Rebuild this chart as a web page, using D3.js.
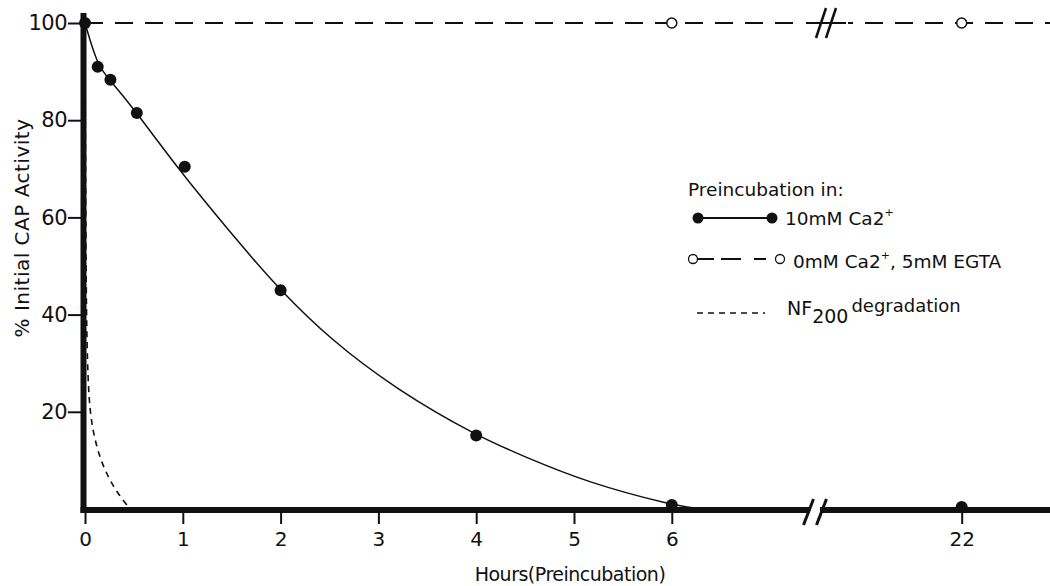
<!DOCTYPE html>
<html>
<head>
<meta charset="utf-8">
<script src="https://cdn.jsdelivr.net/npm/d3@7"></script>
<style>
  html, body { margin: 0; padding: 0; background: #fff; }
  svg { display: block; }
  text { font-family: "DejaVu Sans", sans-serif; fill: #111; }
</style>
</head>
<body>
<svg id="chart" width="1050" height="586"></svg>
<script>
// ---- data ----
const caHours   = [0, 0.13, 0.26, 0.53, 1.02, 2.0, 4.0, 6.0, 22];
const caValues  = [100, 91, 88.3, 81.5, 70.4, 45, 15.1, 0.8, 0.4];
const fitHours  = [0, 0.13, 0.26, 0.53, 0.72, 1.0, 1.69, 2.0, 2.5, 3.19, 4.0, 4.5, 5.13, 6.0, 6.3];
const fitValues = [100, 91, 88.2, 81.5, 76.3, 68.8, 52, 45, 35, 24.5, 15.1, 10.7, 5.5, 0.8, 0];
const egtaHours  = [6, 22];
const egtaValues = [100, 100];
const nfHours  = [0, 0.004, 0.01, 0.02, 0.04, 0.08, 0.15, 0.25, 0.35, 0.46];
const nfValues = [100, 75, 50, 33, 22, 16, 10.5, 6, 2.8, 0];
const xTicks = [0, 1, 2, 3, 4, 5, 6, 22];
const yTicks = [20, 40, 60, 80, 100];

// ---- scales ----
const svg = d3.select("#chart");
const x = d3.scaleLinear().domain([0, 7.45, 20.5, 22.9]).range([85, 813.6, 815, 1049.7]);
const y = d3.scaleLinear().domain([0, 100]).range([509, 23]);
const axisY = 510;

// ---- 100% EGTA dashed line ----
svg.append("line")
  .attr("x1", x(0)).attr("x2", 1050).attr("y1", y(100)).attr("y2", y(100))
  .attr("stroke", "#111").attr("stroke-width", 2).attr("stroke-dasharray", "18,12");

// top break mark
const topBreak = 826;
svg.append("rect").attr("x", topBreak - 22).attr("y", y(100) - 3).attr("width", 44).attr("height", 6).attr("fill", "#fff");
svg.append("line").attr("x1", topBreak - 20).attr("x2", topBreak + 20).attr("y1", y(100)).attr("y2", y(100)).attr("stroke", "#111").attr("stroke-width", 2);
[-5, 5].forEach(d => {
  svg.append("line")
    .attr("x1", topBreak + d - 5).attr("y1", y(100) + 15)
    .attr("x2", topBreak + d + 5).attr("y2", y(100) - 15)
    .attr("stroke", "#111").attr("stroke-width", 2.5);
});

// ---- NF200 degradation curve ----
svg.append("path")
  .datum(nfHours.map((h, i) => [h, nfValues[i]]))
  .attr("fill", "none").attr("stroke", "#111").attr("stroke-width", 1.6)
  .attr("stroke-dasharray", "6,5")
  .attr("d", d3.line().x(d => x(d[0])).y(d => y(d[1])).curve(d3.curveBasis));

// ---- fitted curve ----
svg.append("path")
  .datum(fitHours.map((h, i) => [h, fitValues[i]]))
  .attr("fill", "none").attr("stroke", "#111").attr("stroke-width", 1.5)
  .attr("d", d3.line().x(d => x(d[0])).y(d => y(d[1])).curve(d3.curveBasis));

// ---- axes ----
svg.append("line").attr("x1", 83.5).attr("x2", 83.5).attr("y1", 13).attr("y2", axisY + 3)
  .attr("stroke", "#111").attr("stroke-width", 6);
svg.append("line").attr("x1", 80.5).attr("x2", 1050).attr("y1", axisY).attr("y2", axisY)
  .attr("stroke", "#111").attr("stroke-width", 6);

// bottom break mark
const botBreak = 815;
svg.append("rect").attr("x", botBreak - 5).attr("y", axisY - 4).attr("width", 10).attr("height", 8).attr("fill", "#fff");
[-6.5, 6.5].forEach(d => {
  svg.append("line")
    .attr("x1", botBreak + d - 5).attr("y1", axisY + 15)
    .attr("x2", botBreak + d + 5).attr("y2", axisY - 11)
    .attr("stroke", "#111").attr("stroke-width", 3);
});

// y ticks
const yAxis = d3.axisLeft(y).tickValues(yTicks).tickSize(13).tickPadding(1).tickFormat(d3.format("d"));
const gy = svg.append("g").attr("transform", "translate(81,0)").call(yAxis);
gy.select(".domain").remove();
gy.selectAll(".tick line").attr("stroke", "#111").attr("stroke-width", 2);
gy.selectAll(".tick text").attr("font-size", 21).attr("letter-spacing", -0.5).attr("fill", "#111")
  .attr("font-family", "Liberation Sans Narrow, Liberation Sans, sans-serif");

// x ticks
const xAxis = d3.axisBottom(x).tickValues(xTicks).tickSize(12).tickPadding(8).tickFormat(d3.format("d"));
const gx = svg.append("g").attr("transform", `translate(0,${axisY + 2})`).call(xAxis);
gx.select(".domain").remove();
gx.selectAll(".tick line").attr("stroke", "#111").attr("stroke-width", 2);
gx.selectAll(".tick text").attr("font-size", 20).attr("fill", "#111")
  .attr("font-family", "Liberation Sans, Arial, sans-serif");

// ---- points ----
svg.append("g").selectAll("circle")
  .data(caHours.map((h, i) => [h, caValues[i]]))
  .join("circle")
  .attr("cx", d => x(d[0])).attr("cy", d => y(d[1])).attr("r", 6).attr("fill", "#111");

svg.append("g").selectAll("circle")
  .data(egtaHours.map((h, i) => [h, egtaValues[i]]))
  .join("circle")
  .attr("cx", d => x(d[0])).attr("cy", d => y(d[1])).attr("r", 5)
  .attr("fill", "#fff").attr("stroke", "#111").attr("stroke-width", 1.5);

// ---- axis titles ----
svg.append("text").attr("x", 570).attr("y", 581).attr("text-anchor", "middle")
  .attr("font-size", 19).attr("letter-spacing", -0.5).text("Hours(Preincubation)");
svg.append("text").attr("transform", "translate(29,228) rotate(-90)").attr("text-anchor", "middle")
  .attr("font-size", 20).attr("letter-spacing", 0.5).text("% Initial  CAP Activity");

// ---- legend ----
const lg = svg.append("g");
lg.append("text").attr("x", 688).attr("y", 196).attr("font-size", 18.5).text("Preincubation in:");
// row 1
lg.append("line").attr("x1", 698).attr("x2", 772).attr("y1", 218).attr("y2", 218).attr("stroke", "#111").attr("stroke-width", 2);
[698, 772].forEach(cx => lg.append("circle").attr("cx", cx).attr("cy", 218).attr("r", 5.5).attr("fill", "#111"));
const t1 = lg.append("text").attr("x", 785).attr("y", 225).attr("font-size", 18.5);
t1.append("tspan").text("10mM  Ca2");
t1.append("tspan").attr("dy", -9).attr("font-size", 11).text("+");
// row 2
lg.append("line").attr("x1", 697).attr("x2", 776).attr("y1", 259).attr("y2", 259).attr("stroke", "#111").attr("stroke-width", 1.8)
  .attr("stroke-dasharray", "17,7,20,13,12,100");
[693, 780].forEach(cx => lg.append("circle").attr("cx", cx).attr("cy", 259).attr("r", 4.5).attr("fill", "#fff").attr("stroke", "#111").attr("stroke-width", 1.3));
const t2 = lg.append("text").attr("x", 793).attr("y", 268).attr("font-size", 18.5);
t2.append("tspan").text("0mM Ca2");
t2.append("tspan").attr("dy", -9).attr("font-size", 11).text("+");
t2.append("tspan").attr("dy", 9).text(", 5mM EGTA");
// row 3
lg.append("line").attr("x1", 697).attr("x2", 765).attr("y1", 313).attr("y2", 313).attr("stroke", "#111").attr("stroke-width", 1.5)
  .attr("stroke-dasharray", "6,5");
const t3 = lg.append("text").attr("x", 787).attr("y", 315).attr("font-size", 19);
t3.append("tspan").text("NF");
t3.append("tspan").attr("dy", 8).text("200");
t3.append("tspan").attr("dy", -11).attr("dx", 3).attr("font-size", 18).text("degradation");
</script>
</body>
</html>
